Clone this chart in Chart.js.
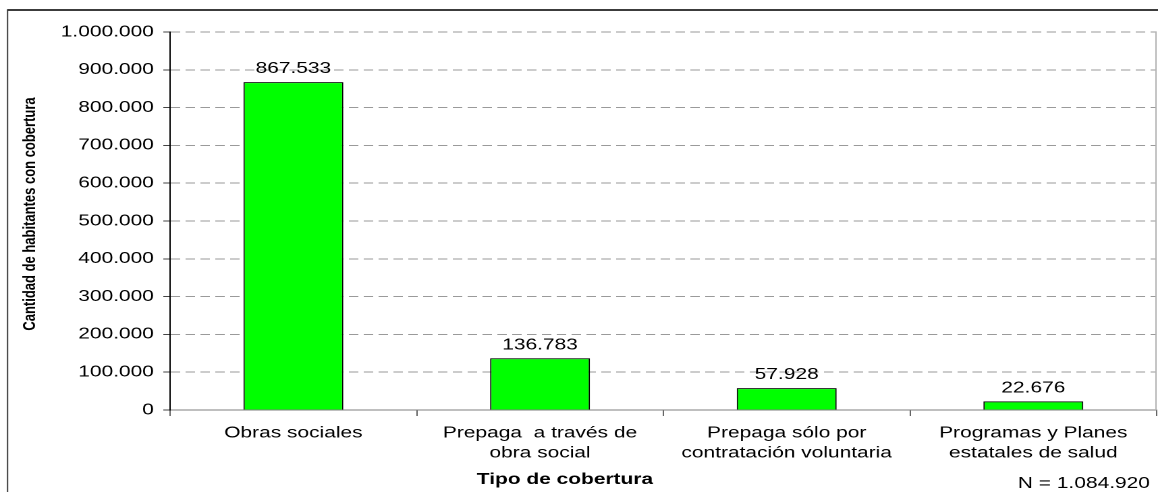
<!DOCTYPE html>
<html lang="es">
<head>
<meta charset="utf-8">
<title>Cobertura de salud</title>
<script src="https://cdn.jsdelivr.net/npm/chart.js@4/dist/chart.umd.min.js"></script>
<style>
  html, body { margin: 0; padding: 0; background: #ffffff; overflow: hidden; }
  /* the chart is laid out on a narrower canvas and widened to the page width */
  #wrap { position: absolute; left: 0; top: 0; width: 858px; height: 492px;
          transform: scaleX(1.34965); transform-origin: 0 0; }
</style>
</head>
<body>
<div id="wrap"><canvas id="c" width="858" height="492"></canvas></div>
<script>
// Categorías de cobertura (etiquetas en dos líneas)
const categorias = [
  ["Obras sociales"],
  ["Prepaga  a través de", "obra social"],
  ["Prepaga sólo por", "contratación voluntaria"],
  ["Programas y Planes", "estatales de salud"]
];
// Cantidad de habitantes con cada tipo de cobertura
const habitantes = [867533, 136783, 57928, 22676];
// Escala del eje vertical
const ejeMin = 0;
const ejeMax = 1000000;
const ejePaso = 100000;
// Total de la muestra
const totalN = 1084920;

const FAMILY = '"Liberation Sans", Arial, sans-serif';

function miles(n) {
  return String(Math.round(n)).replace(/\B(?=(\d{3})+(?!\d))/g, '.');
}

// Marco exterior, títulos y nota al pie
const decoraciones = {
  id: 'decoraciones',
  beforeDraw(chart) {
    const ctx = chart.ctx;
    ctx.save();
    ctx.fillStyle = '#ffffff';
    ctx.fillRect(0, 0, chart.width, chart.height);
    ctx.strokeStyle = '#3c3c3c';
    ctx.lineWidth = 2;
    ctx.beginPath();
    ctx.moveTo(5.2, 10);
    ctx.lineTo(chart.width, 10);
    ctx.stroke();
    ctx.lineWidth = 1;
    ctx.beginPath();
    ctx.moveTo(5.6, 10);
    ctx.lineTo(5.6, chart.height);
    ctx.stroke();
    ctx.restore();
  },
  afterDraw(chart) {
    const ctx = chart.ctx;
    const area = chart.chartArea;
    ctx.save();
    // borde derecho del área de trazado
    ctx.strokeStyle = '#b4b4b4';
    ctx.lineWidth = 1;
    ctx.beginPath();
    ctx.moveTo(area.right - 0.5, area.top);
    ctx.lineTo(area.right - 0.5, area.bottom);
    ctx.stroke();

    ctx.fillStyle = '#000000';
    // título del eje vertical
    ctx.save();
    ctx.translate(22.2, 214);
    ctx.rotate(-Math.PI / 2);
    ctx.font = 'bold 13px ' + FAMILY;
    ctx.textAlign = 'center';
    ctx.textBaseline = 'middle';
    ctx.fillText('Cantidad de habitantes con cobertura', 0, 0);
    ctx.restore();

    // título del eje horizontal
    ctx.font = 'bold 15.5px ' + FAMILY;
    ctx.textAlign = 'center';
    ctx.textBaseline = 'middle';
    ctx.fillText('Tipo de cobertura', 418.6, 479.5);

    // tamaño de la muestra
    ctx.font = '15.5px ' + FAMILY;
    ctx.textAlign = 'right';
    ctx.fillText('N = ' + miles(totalN), 852, 483.5);
    ctx.restore();
  }
};

// Valores sobre cada barra
const valoresBarras = {
  id: 'valoresBarras',
  afterDatasetsDraw(chart) {
    const ctx = chart.ctx;
    const meta = chart.getDatasetMeta(0);
    const datos = chart.data.datasets[0].data;
    ctx.save();
    ctx.fillStyle = '#000000';
    ctx.font = '15.5px ' + FAMILY;
    ctx.textAlign = 'center';
    ctx.textBaseline = 'alphabetic';
    meta.data.forEach((bar, i) => {
      ctx.fillText(miles(datos[i]), bar.x, bar.y - 9);
    });
    ctx.restore();
  }
};

new Chart(document.getElementById('c'), {
  type: 'bar',
  data: {
    labels: categorias,
    datasets: [{
      data: habitantes,
      backgroundColor: '#00ff00',
      borderColor: '#000000',
      borderWidth: 1,
      barPercentage: 0.405,
      categoryPercentage: 1.0
    }]
  },
  options: {
    responsive: false,
    animation: false,
    devicePixelRatio: 2,
    layout: { padding: { top: 32, right: 1, left: 0, bottom: 0 } },
    plugins: {
      legend: { display: false },
      tooltip: { enabled: false },
      title: { display: false }
    },
    scales: {
      x: {
        grid: {
          offset: true,
          drawOnChartArea: false,
          drawTicks: true,
          tickLength: 6,
          color: '#666666',
          tickBorderDash: []
        },
        border: { display: true, color: '#808080', width: 1 },
        ticks: {
          color: '#000000',
          font: { family: FAMILY, size: 15.5, lineHeight: 1.3 },
          padding: 7,
          maxRotation: 0,
          autoSkip: false
        },
        afterFit(scale) { scale.height = 82; }
      },
      y: {
        min: ejeMin,
        max: ejeMax,
        grid: {
          color: '#9a9a9a',
          lineWidth: 1,
          drawTicks: true,
          tickLength: 5,
          tickColor: '#444444',
          tickBorderDash: []
        },
        border: { display: true, color: '#000000', width: 1, dash: [7, 4] },
        ticks: {
          stepSize: ejePaso,
          color: '#000000',
          font: { family: FAMILY, size: 15.5 },
          padding: 7,
          callback: (v) => miles(v)
        },
        afterFit(scale) { scale.width = 126; }
      }
    }
  },
  plugins: [decoraciones, valoresBarras]
});
</script>
</body>
</html>
